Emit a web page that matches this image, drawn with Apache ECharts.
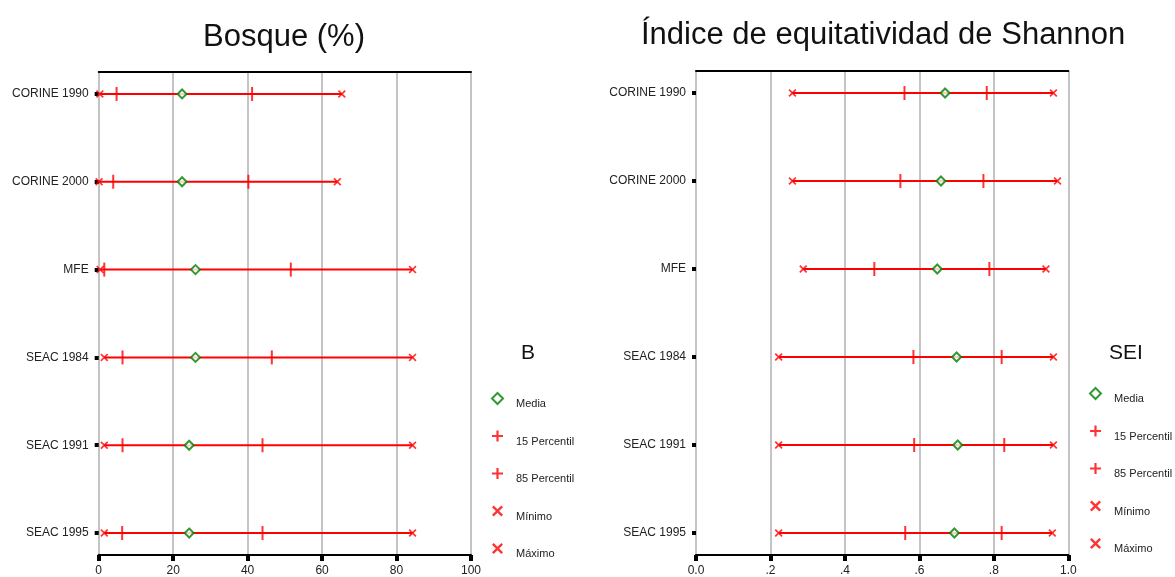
<!DOCTYPE html>
<html>
<head>
<meta charset="utf-8">
<script src="https://cdn.jsdelivr.net/npm/echarts@6/dist/echarts.min.js"></script>
<style>html,body{margin:0;padding:0;background:#fff}#c{width:1175px;height:577px}</style>
</head>
<body>
<div id="c"></div>
<script>
const categories = ['CORINE 1990', 'CORINE 2000', 'MFE', 'SEAC 1984', 'SEAC 1991', 'SEAC 1995'];

const bosqueMin  = [0.3, 0.1, 0.4, 1.5, 1.5, 1.5];
const bosqueP15  = [4.8, 3.9, 1.5, 6.4, 6.4, 6.3];
const bosqueMean = [22.4, 22.4, 26.0, 26.0, 24.3, 24.3];
const bosqueP85  = [41.2, 40.2, 51.6, 46.5, 44.0, 44.0];
const bosqueMax  = [65.3, 64.1, 84.3, 84.3, 84.3, 84.3];

const seiMin  = [0.259, 0.259, 0.288, 0.222, 0.222, 0.222];
const seiP15  = [0.560, 0.549, 0.479, 0.584, 0.586, 0.562];
const seiMean = [0.669, 0.658, 0.648, 0.700, 0.703, 0.694];
const seiP85  = [0.781, 0.772, 0.788, 0.821, 0.828, 0.821];
const seiMax  = [0.960, 0.971, 0.940, 0.960, 0.960, 0.957];

const bosqueTickLabels = ['0', '20', '40', '60', '80', '100'];
const seiTickLabels = ['0.0', '.2', '.4', '.6', '.8', '1.0'];

const legendNames = ['Media', '15 Percentil', '85 Percentil', 'Mínimo', 'Máximo'];

const FONT = 'Liberation Sans, Arial, sans-serif';
const RED = '#ff0000';
const GREEN = '#008000';
const PLUS = 'path://M4,0H6V4H10V6H6V10H4V6H0V4H4Z';
const XMARK = 'path://M0,1.5L1.5,0L5,3.5L8.5,0L10,1.5L6.5,5L10,8.5L8.5,10L5,6.5L1.5,10L0,8.5L3.5,5Z';

const chart = echarts.init(document.getElementById('c'), null, {renderer: 'canvas'});

const grids = [
  {left: 98.7, right: 704, top: 72, bottom: 21},
  {left: 696, right: 106.7, top: 71, bottom: 21}
];

const xAxes = [];
const yAxes = [];
const series = [];

function addPanel(gi, xmax, tickLabels, mins, p15, mean, p85, maxs) {
  const step = xmax / 5;
  xAxes.push({
    type: 'value', gridIndex: gi, min: 0, max: xmax, interval: step, position: 'bottom',
    axisLine: {show: true, onZero: false, lineStyle: {color: '#000', width: 2}},
    axisTick: {show: true, length: 6, lineStyle: {color: '#000', width: 4}},
    axisLabel: {
      margin: 10, fontSize: 12, fontFamily: FONT, color: '#222',
      formatter: v => tickLabels[Math.round(v / step)]
    },
    splitLine: {show: true, lineStyle: {color: '#c4c4c4', width: 2}}
  });
  xAxes.push({
    type: 'value', gridIndex: gi, min: 0, max: xmax, interval: step, position: 'top',
    axisLine: {show: true, onZero: false, lineStyle: {color: '#000', width: 2}},
    axisTick: {show: false}, axisLabel: {show: false}, splitLine: {show: false}
  });
  yAxes.push({
    type: 'value', gridIndex: gi, min: -0.25, max: 5.25, inverse: true,
    axisLine: {show: false},
    axisTick: {show: true, length: 4, customValues: categories.map((c, i) => i), lineStyle: {color: '#000', width: 4}},
    axisLabel: {
      show: true, margin: 10, fontSize: 12, fontFamily: FONT, color: '#222',
      customValues: categories.map((c, i) => i),
      formatter: v => categories[Math.round(v)]
    },
    splitLine: {show: false}
  });
  const xi = gi * 2;
  const yi = gi;
  series.push({
    type: 'custom', name: 'rango', xAxisIndex: xi, yAxisIndex: yi, z: 1,
    renderItem: function (params, api) {
      const y = api.value(2);
      const a = api.coord([api.value(0), y]);
      const b = api.coord([api.value(1), y]);
      return {type: 'line', shape: {x1: a[0], y1: a[1], x2: b[0], y2: b[1]}, style: {stroke: RED, lineWidth: 2}};
    },
    encode: {x: [0, 1], y: 2},
    data: categories.map((c, i) => [mins[i], maxs[i], i]),
    silent: true
  });
  series.push({
    type: 'scatter', name: '15 Percentil', xAxisIndex: xi, yAxisIndex: yi, z: 3,
    symbol: 'rect', symbolSize: [2, 14], itemStyle: {color: RED},
    data: categories.map((c, i) => [p15[i], i])
  });
  series.push({
    type: 'scatter', name: '85 Percentil', xAxisIndex: xi, yAxisIndex: yi, z: 3,
    symbol: 'rect', symbolSize: [2, 14], itemStyle: {color: RED},
    data: categories.map((c, i) => [p85[i], i])
  });
  series.push({
    type: 'scatter', name: 'Mínimo', xAxisIndex: xi, yAxisIndex: yi, z: 4,
    symbol: XMARK, symbolSize: 8, itemStyle: {color: RED},
    data: categories.map((c, i) => [mins[i], i])
  });
  series.push({
    type: 'scatter', name: 'Máximo', xAxisIndex: xi, yAxisIndex: yi, z: 4,
    symbol: XMARK, symbolSize: 8, itemStyle: {color: RED},
    data: categories.map((c, i) => [maxs[i], i])
  });
  series.push({
    type: 'scatter', name: 'Media', xAxisIndex: xi, yAxisIndex: yi, z: 5,
    symbol: 'diamond', symbolSize: 9,
    itemStyle: {color: '#fff', borderColor: GREEN, borderWidth: 2},
    data: categories.map((c, i) => [mean[i], i])
  });
}

addPanel(0, 100, bosqueTickLabels, bosqueMin, bosqueP15, bosqueMean, bosqueP85, bosqueMax);
addPanel(1, 1, seiTickLabels, seiMin, seiP15, seiMean, seiP85, seiMax);

function legendAt(left, top) {
  return {
    orient: 'vertical', left: left, top: top, padding: 0,
    itemWidth: 11, itemHeight: 11, itemGap: 21, selectedMode: false,
    formatter: n => '{t|' + n + '}',
    textStyle: {
      fontSize: 11, fontFamily: FONT, color: '#222',
      rich: {t: {fontSize: 11, fontFamily: FONT, color: '#222', padding: [11, 0, 0, 8]}}
    },
    data: [
      {name: 'Media', icon: 'diamond'},
      {name: '15 Percentil', icon: PLUS},
      {name: '85 Percentil', icon: PLUS},
      {name: 'Mínimo', icon: XMARK},
      {name: 'Máximo', icon: XMARK}
    ]
  };
}

chart.setOption({
  animation: false,
  backgroundColor: '#fff',
  title: [
    {text: 'Bosque (%)', left: 203, top: 22, padding: 0, textStyle: {fontSize: 31, fontWeight: 'normal', fontFamily: FONT, color: '#111'}},
    {text: 'Índice de equitatividad de Shannon', left: 641, top: 20, padding: 0, textStyle: {fontSize: 31, fontWeight: 'normal', fontFamily: FONT, color: '#111'}},
    {text: 'B', left: 521, top: 343, padding: 0, textStyle: {fontSize: 21, fontWeight: 'normal', fontFamily: FONT, color: '#111'}},
    {text: 'SEI', left: 1109, top: 343, padding: 0, textStyle: {fontSize: 21, fontWeight: 'normal', fontFamily: FONT, color: '#111'}}
  ],
  legend: [legendAt(491, 392), legendAt(1089, 387)],
  grid: grids,
  xAxis: xAxes,
  yAxis: yAxes,
  series: series
});
</script>
</body>
</html>
